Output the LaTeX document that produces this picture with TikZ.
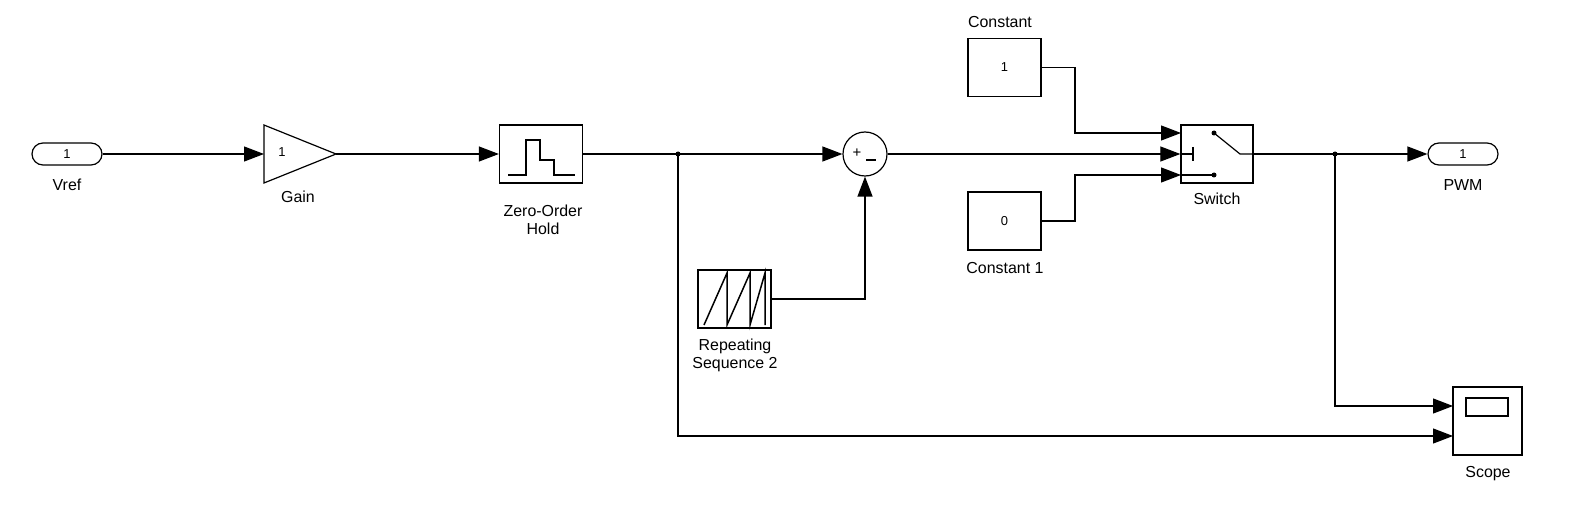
\documentclass[tikz,border=0pt]{standalone}
\usepackage{fontspec}
\setmainfont{Liberation Sans}
\usetikzlibrary{arrows.meta,shapes.geometric}
\begin{document}
\begin{tikzpicture}[x=1bp,y=-1bp,
  blk/.style={draw,line width=1.3bp,minimum width=73bp,minimum height=58bp,inner sep=0pt,font=\fontsize{13}{13}\selectfont},
  port/.style={draw,line width=1.2bp,rounded corners=11bp,minimum width=70bp,minimum height=22bp,inner sep=0pt,font=\fontsize{13}{13}\selectfont},
  lbl/.style={font=\fontsize{16}{18}\selectfont,align=center},
  w/.style={line width=1.2bp},
  a/.style={w,-{Triangle[length=20bp,width=15bp]}},
  dot/.style={circle,fill,inner sep=0pt,minimum size=5bp}]
\useasboundingbox (0,0) rectangle (1572,508);
\node[port] (vref) at (67,154) {1};
\node[lbl] at (67,185) {Vref};
\coordinate (gin) at (264,154);
\coordinate (gout) at (336,154);
\draw[line width=1.2bp] (264,125) -- (gout) -- (264,183) -- cycle;
\node[font=\fontsize{13}{13}\selectfont] at (282,152) {1};
\node[lbl] at (298,197) {Gain};
\node[blk,minimum width=83bp] (zoh) at (541,154) {};
\draw[w] (508,175)--(526,175)--(526,140)--(540,140)--(540,160)--(554,160)--(554,175)--(575,175);
\node[lbl] at (543,220) {Zero-Order\\Hold};
\coordinate (j1) at (678,154);
\node[dot] at (j1) {};
\node[draw,circle,line width=1.2bp,minimum size=44bp,inner sep=0pt] (sum) at (865,154) {};
\node[font=\fontsize{15}{15}\selectfont] at (857,153) {+};
\draw[line width=1.2bp] (866,160) -- (876,160);
\node[blk] (rep) at (734.5,299) {};
\draw[line width=1.5bp] (704,325)--(727,273)--(727,325)--(750,273)--(750,325)--(765,273)--(765,325);
\node[lbl] at (735,355) {Repeating\\Sequence 2};
\node[blk] (c1) at (1004.5,67.5) {1};
\node[lbl] at (1000,22) {Constant};
\node[blk] (c0) at (1004.5,221) {0};
\node[lbl] at (1005,268) {Constant 1};
\node[blk,minimum width=72bp] (sw) at (1217,154) {};
\node[lbl] at (1217,199) {Switch};
\fill (1214,133) circle (2.5bp);
\fill (1214,175) circle (2.5bp);
\draw[w] (1214,133)--(1240,154)--(1253,154);
\draw[w] (1181,175)--(1214,175);
\draw[w] (1181,154)--(1193,154) (1193,147)--(1193,161);
\coordinate (j2) at (1335,154);
\node[dot] at (j2) {};
\node[port] (pwm) at (1463,154) {1};
\node[lbl] at (1463,185) {PWM};
\node[blk,minimum width=69bp,minimum height=68bp] (sc) at (1487.5,421) {};
\draw[w] (1466,398) rectangle (1508,416);
\node[lbl] at (1488,474) {Scope};
% connectors
\draw[a] (vref.east) -- (gin);
\draw[a] (gout) -- (zoh.west);
\draw[w] (zoh.east) -- (j1);
\draw[a] (j1) -- (sum.west);
\draw[a] (rep.east) -| (sum.south);
\draw[a] (sum.east) -- (sw.west);
\draw[a] (c1.east) -- (1075,67.5) |- (1181,133);
\draw[a] (c0.east) -- (1075,221) |- (1181,175);
\draw[w] (sw.east) -- (j2);
\draw[a] (j2) -- (pwm.west);
\draw[a] (j2) |- (1453,406);
\draw[a] (j1) |- (1453,436);
\end{tikzpicture}
\end{document}
